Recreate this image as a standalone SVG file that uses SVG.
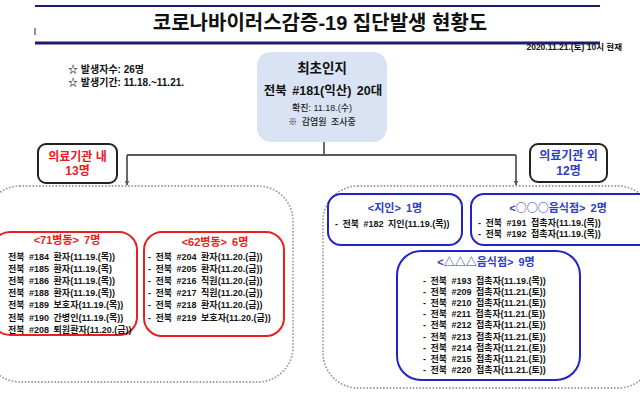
<svg xmlns="http://www.w3.org/2000/svg" width="640" height="411" viewBox="0 0 640 411">
<defs>
<style>
text{font-family:"Liberation Sans","Noto Sans CJK KR",sans-serif;}
.item{font-size:9px;font-weight:700;fill:#151515;word-spacing:2px;}
.rt{font-size:11px;font-weight:700;fill:#E82020;text-anchor:middle;word-spacing:2px;}
.bt{font-size:11px;font-weight:700;fill:#2F3CC4;text-anchor:middle;word-spacing:2px;}
.cjk{font-family:"Noto Sans CJK KR",sans-serif;}
.dot{fill:none;stroke:#9a9a9a;stroke-width:1.8;stroke-dasharray:0.1 3.2;stroke-linecap:round;}
.red{fill:#fff;stroke:#E82020;stroke-width:2;}
.blue{fill:#fff;stroke:#2222CC;stroke-width:2;}
.lbl{fill:#fff;stroke:#222;stroke-width:2;}
.conn{fill:none;stroke:#595959;stroke-width:1.8;}
.hline{stroke:#1C1C6E;}
</style>
<marker id="arr" viewBox="0 0 10 10" refX="9" refY="5" markerWidth="5" markerHeight="5" markerUnits="userSpaceOnUse" orient="auto">
<path d="M0 0 L10 5 L0 10 Z" fill="#595959"/>
</marker>
</defs>
<rect width="640" height="411" fill="#fff"/>

<g id="title">
<line class="hline" x1="35" y1="6" x2="600" y2="6" stroke-width="2"/>
<line class="hline" x1="35" y1="43" x2="600" y2="43" stroke-width="3"/>
<line x1="35" y1="28" x2="35" y2="35" stroke="#222" stroke-width="1"/>
<text x="320" y="30" font-size="20" font-weight="700" fill="#111" text-anchor="middle">코로나바이러스감증-19 집단발생 현황도</text>
<text x="622" y="50" font-size="8.5" font-weight="700" fill="#111" text-anchor="end">2020.11.21.(토) 10시 현재</text>
</g>

<g id="info">
<text x="68" y="73" font-size="10" font-weight="700" fill="#111" xml:space="preserve">☆ 발생자수: 26명</text>
<text x="68" y="86" font-size="10" font-weight="700" fill="#111" xml:space="preserve">☆ 발생기간: 11.18.~11.21.</text>
</g>

<g id="connectors">
<path class="conn" d="M324 142 V155"/>
<path class="conn" d="M127 155 H516"/>
<path class="conn" d="M127 155 V185" marker-end="url(#arr)"/>
<path class="conn" d="M516 155 V185" marker-end="url(#arr)"/>
</g>

<g id="first-case">
<rect x="257" y="52" width="130" height="90" rx="14" fill="#DAE3F3"/>
<text x="322" y="73" font-size="13.5" font-weight="700" fill="#111" text-anchor="middle">최초인지</text>
<text x="323" y="95" font-size="12.5" font-weight="700" fill="#111" text-anchor="middle" word-spacing="2">전북 #181(익산) 20대</text>
<text x="322" y="111" font-size="9" font-weight="500" fill="#222" text-anchor="middle">확진: 11.18.(수)</text>
<text x="322" y="125" font-size="9" font-weight="500" fill="#222" text-anchor="middle" word-spacing="2">※ 감염원 조사중</text>
</g>

<g id="inside-group">
<rect class="dot" x="-15" y="186" width="308" height="196" rx="35"/>
</g>
<g id="outside-group">
<rect class="dot" x="323" y="186" width="330" height="202" rx="35"/>
</g>

<g id="label-inside">
<rect class="lbl" x="38" y="144" width="79" height="39" rx="8"/>
<text x="77.5" y="160.5" font-size="12" font-weight="700" fill="#E82020" text-anchor="middle">의료기관 내</text>
<text x="77.5" y="175" font-size="12" font-weight="700" fill="#E82020" text-anchor="middle">13명</text>
</g>

<g id="label-outside">
<rect class="lbl" x="530" y="144" width="77" height="38" rx="8"/>
<text x="568.5" y="159.5" font-size="12" font-weight="700" fill="#2F3CC4" text-anchor="middle">의료기관 외</text>
<text x="568.5" y="175" font-size="12" font-weight="700" fill="#2F3CC4" text-anchor="middle">12명</text>
</g>

<g id="ward71">
<rect class="red" x="-8" y="232" width="145" height="103" rx="18"/>
<text class="rt" x="67" y="244">&lt;71병동&gt; 7명</text>
<text class="item" x="8" y="259.5">전북 #184 환자(11.19.(목))</text>
<text class="item" x="8" y="271.7">전북 #185 환자(11.19.(목)</text>
<text class="item" x="8" y="283.9">전북 #186 환자(11.19.(목))</text>
<text class="item" x="8" y="296.1">전북 #188 환자(11.19.(목))</text>
<text class="item" x="8" y="308.3">전북 #189 보호자(11.19.(목))</text>
<text class="item" x="8" y="320.5">전북 #190 간병인(11.19.(목))</text>
<text class="item" x="8" y="332.7">전북 #208 퇴원환자(11.20.(금))</text>
</g>

<g id="ward62">
<rect class="red" x="144" y="232" width="140" height="104" rx="18"/>
<text class="rt" x="215" y="246">&lt;62병동&gt; 6명</text>
<text class="item" x="148" y="259.5">- 전북 #204 환자(11.20.(금))</text>
<text class="item" x="148" y="271.7">- 전북 #205 환자(11.20.(금))</text>
<text class="item" x="148" y="283.9">- 전북 #216 직원(11.20.(금))</text>
<text class="item" x="148" y="296.1">- 전북 #217 직원(11.20.(금))</text>
<text class="item" x="148" y="308.3">- 전북 #218 환자(11.20.(금))</text>
<text class="item" x="148" y="320.5">- 전북 #219 보호자(11.20.(금))</text>
</g>

<g id="acquaintance">
<rect class="blue" x="328" y="194" width="134" height="51" rx="13"/>
<text class="bt" x="395" y="212">&lt;지인&gt; 1명</text>
<text class="item" x="335" y="226.5">- 전북 #182 지인(11.19.(목))</text>
</g>

<g id="restaurant-ooo">
<rect class="blue" x="471" y="194" width="185" height="51" rx="13"/>
<text class="bt" x="558" y="212">&lt;<tspan class="cjk">○○○</tspan>음식점&gt; 2명</text>
<text class="item" x="478" y="226">- 전북 #191 접촉자(11.19.(목))</text>
<text class="item" x="478" y="237">- 전북 #192 접촉자(11.19.(목))</text>
</g>

<g id="restaurant-ttt">
<rect class="blue" x="397" y="251" width="183" height="129" rx="24"/>
<text class="bt" x="486" y="266">&lt;△△△음식점&gt; 9명</text>
<text class="item" x="423" y="283.5">- 전북 #193 접촉자(11.19.(목))</text>
<text class="item" x="423" y="294.7">- 전북 #209 접촉자(11.21.(토))</text>
<text class="item" x="423" y="305.9">- 전북 #210 접촉자(11.21.(토))</text>
<text class="item" x="423" y="317.1">- 전북 #211 접촉자(11.21.(토))</text>
<text class="item" x="423" y="328.3">- 전북 #212 접촉자(11.21.(토))</text>
<text class="item" x="423" y="339.5">- 전북 #213 접촉자(11.21.(토))</text>
<text class="item" x="423" y="350.7">- 전북 #214 접촉자(11.21.(토))</text>
<text class="item" x="423" y="361.9">- 전북 #215 접촉자(11.21.(토))</text>
<text class="item" x="423" y="373.1">- 전북 #220 접촉자(11.21.(토))</text>
</g>
</svg>
